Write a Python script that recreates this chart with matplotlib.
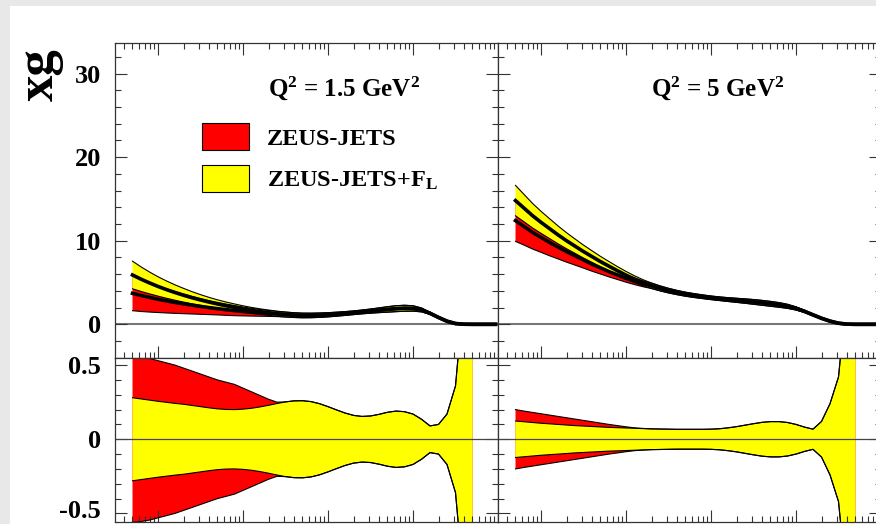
"""Gluon density xg at two Q^2 values, ZEUS-JETS vs ZEUS-JETS+F_L fits.

Upper row: xg with the fit uncertainty band, lower row: the fractional
uncertainty of each fit. Both rows are drawn from the same central values
and relative uncertainties.
"""

import matplotlib.pyplot as plt
import numpy as np
from matplotlib.patches import Patch, Rectangle
from matplotlib.ticker import FuncFormatter, LogLocator, MultipleLocator, NullFormatter
from matplotlib.transforms import ScaledTranslation

plt.rcParams.update({
    "font.family": "Liberation Serif",
    "font.weight": "bold",
    "mathtext.fontset": "custom",
    "mathtext.rm": "Liberation Serif:bold",
    "mathtext.it": "Liberation Serif:bold",
    "mathtext.bf": "Liberation Serif:bold",
    "axes.unicode_minus": False,
})

# log10(x) nodes for the xg curves
LOG_X = np.array([-4.3, -4.2, -4.1, -4.0, -3.9, -3.8, -3.7, -3.6, -3.5, -3.4,
                  -3.3, -3.2, -3.1, -3.0, -2.9, -2.8, -2.7, -2.6, -2.5, -2.4,
                  -2.3, -2.2, -2.1, -2.0, -1.9, -1.8, -1.7, -1.6, -1.5, -1.4,
                  -1.3, -1.2, -1.1, -1.0, -0.9, -0.8, -0.7, -0.6, -0.5, -0.4,
                  -0.3, -0.2, -0.1, -0.03])
# relative uncertainties are given on the first N_REL nodes (up to x ~ 0.5)
N_REL = 41

# Q^2 = 1.5 GeV^2
XG_JETS_Q15 = [3.70, 3.45, 3.22, 3.00, 2.80, 2.62, 2.45, 2.29, 2.14, 2.00,
               1.87, 1.75, 1.64, 1.54, 1.45, 1.37, 1.30, 1.23, 1.17, 1.10,
               1.06, 1.06, 1.09, 1.14, 1.21, 1.29, 1.38, 1.48, 1.58, 1.68,
               1.78, 1.87, 1.92, 1.90, 1.72, 1.32, 0.82, 0.37, 0.09, 0.01,
               0.0, 0.0, 0.0, 0.0]
XG_FL_Q15 = [5.90, 5.40, 4.95, 4.53, 4.15, 3.80, 3.48, 3.18, 2.91, 2.66,
             2.43, 2.22, 2.03, 1.84, 1.67, 1.52, 1.39, 1.27, 1.17, 1.10,
             1.06, 1.06, 1.09, 1.14, 1.21, 1.29, 1.38, 1.48, 1.58, 1.68,
             1.78, 1.87, 1.92, 1.90, 1.72, 1.32, 0.82, 0.37, 0.09, 0.01,
             0.0, 0.0, 0.0, 0.0]
REL_JETS_Q15 = [0.560, 0.555, 0.545, 0.530, 0.515, 0.500, 0.480, 0.460, 0.440, 0.420,
                0.400, 0.385, 0.370, 0.345, 0.320, 0.295, 0.270, 0.250, 0.252, 0.259,
                0.260, 0.254, 0.240, 0.220, 0.198, 0.177, 0.161, 0.154, 0.157, 0.168,
                0.182, 0.190, 0.186, 0.170, 0.135, 0.090, 0.100, 0.170, 0.360, 1.00,
                2.00]
REL_FL_Q15 = [0.280, 0.272, 0.264, 0.256, 0.249, 0.242, 0.236, 0.228, 0.220, 0.212,
              0.205, 0.201, 0.200, 0.203, 0.209, 0.218, 0.229, 0.241, 0.252, 0.259,
              0.260, 0.254, 0.240, 0.220, 0.198, 0.177, 0.161, 0.154, 0.157, 0.168,
              0.182, 0.190, 0.186, 0.170, 0.135, 0.090, 0.100, 0.170, 0.360, 1.00,
              2.00]

# Q^2 = 5 GeV^2
XG_JETS_Q5 = [12.4, 11.7, 11.0, 10.4, 9.80, 9.25, 8.70, 8.20, 7.70, 7.20,
              6.75, 6.30, 5.90, 5.50, 5.15, 4.85, 4.60, 4.30, 4.03, 3.80,
              3.60, 3.44, 3.30, 3.17, 3.06, 2.96, 2.87, 2.78, 2.68, 2.57,
              2.45, 2.32, 2.15, 1.90, 1.55, 1.13, 0.72, 0.38, 0.13, 0.02,
              0.0, 0.0, 0.0, 0.0]
XG_FL_Q5 = [14.8, 13.9, 13.0, 12.2, 11.45, 10.7, 10.0, 9.35, 8.70, 8.10,
            7.50, 6.95, 6.40, 5.88, 5.40, 4.98, 4.62, 4.30, 4.03, 3.80,
            3.60, 3.44, 3.30, 3.17, 3.06, 2.96, 2.87, 2.78, 2.68, 2.57,
            2.45, 2.32, 2.15, 1.90, 1.55, 1.13, 0.72, 0.38, 0.13, 0.02,
            0.0, 0.0, 0.0, 0.0]
REL_JETS_Q5 = [0.200, 0.190, 0.181, 0.172, 0.163, 0.154, 0.145, 0.136, 0.127, 0.118,
               0.109, 0.100, 0.092, 0.084, 0.077, 0.073, 0.070, 0.069, 0.068, 0.067,
               0.067, 0.067, 0.067, 0.068, 0.071, 0.077, 0.085, 0.095, 0.105, 0.114,
               0.119, 0.119, 0.113, 0.100, 0.082, 0.068, 0.120, 0.240, 0.420, 1.00,
               2.00]
REL_FL_Q5 = [0.123, 0.118, 0.113, 0.108, 0.104, 0.100, 0.096, 0.092, 0.089, 0.086,
             0.083, 0.080, 0.078, 0.076, 0.074, 0.072, 0.070, 0.069, 0.068, 0.067,
             0.067, 0.067, 0.067, 0.068, 0.071, 0.077, 0.085, 0.095, 0.105, 0.114,
             0.119, 0.119, 0.113, 0.100, 0.082, 0.068, 0.120, 0.240, 0.420, 1.00,
             2.00]

PANEL_TITLES = [r"Q$^{2}$ = 1.5 GeV$^{2}$", r"Q$^{2}$ = 5 GeV$^{2}$"]
FIT_LABELS = ["ZEUS-JETS", r"ZEUS-JETS+F$_{\mathrm{L}}$"]
FIT_COLORS = ["#ff0000", "#ffff00"]
REL_TICKS = [-0.5, 0.0, 0.5]
REL_TICK_LABELS = ["-0.5", "0", "0.5"]

W, H = 876, 524


def px_box(left, top, right, bottom):
    """Pixel rectangle (from the top-left corner) -> figure-fraction box."""
    return [left / W, 1 - bottom / H, (right - left) / W, (bottom - top) / H]


def style_axes(ax, ymajor, yminor, top=True, bottom=True, labelleft=True):
    ax.set_xscale("log")
    ax.set_xlim(10 ** -4.506, 1.0)
    ax.xaxis.set_major_locator(LogLocator(base=10, numticks=12))
    ax.xaxis.set_minor_locator(LogLocator(base=10, subs=np.arange(2, 10), numticks=12))
    ax.xaxis.set_major_formatter(NullFormatter())
    ax.xaxis.set_minor_formatter(NullFormatter())
    ax.yaxis.set_major_locator(MultipleLocator(ymajor))
    ax.yaxis.set_minor_locator(MultipleLocator(yminor))
    ax.yaxis.set_major_formatter(FuncFormatter(lambda v, _: "0" if abs(v) < 1e-9 else f"{v:g}"))
    ax.tick_params(which="both", direction="in", top=top, bottom=bottom,
                   left=True, right=True, width=0.8, color="#333333",
                   labelbottom=False, labelleft=labelleft)
    ax.tick_params(which="major", length=8.5)
    ax.tick_params(which="minor", length=4.3)
    ax.tick_params(axis="y", labelsize=19, pad=10)
    for spine in ax.spines.values():
        spine.set_color("#333333")
        spine.set_linewidth(0.9)


def draw_band(ax, x, lo, hi, color):
    ax.fill_between(x, lo, hi, facecolor=color, edgecolor="none")
    ax.plot(x, lo, color="black", lw=0.8)
    ax.plot(x, hi, color="black", lw=0.8)


def draw_q2(ax_top, ax_rel, fits, title):
    x = 10 ** LOG_X
    xr = x[:N_REL]
    # upper row: xg band and central value for each fit, red first
    for (xg, rel), color in zip(fits, FIT_COLORS):
        xg = np.asarray(xg)
        rel = np.asarray(rel)
        draw_band(ax_top, xr, xg[:N_REL] * (1 - rel), xg[:N_REL] * (1 + rel), color)
        ax_top.plot(x, xg, color="black", lw=2.6)
    ax_top.axhline(0, color="#777777", lw=1.5, zorder=1)
    ax_top.set_ylim(-4.03, 33.65)
    ax_top.text(0.40, 0.832, title, transform=ax_top.transAxes,
                fontsize=18, ha="left", va="baseline")

    # lower row: fractional uncertainty
    for (xg, rel), color in zip(fits, FIT_COLORS):
        rel = np.asarray(rel)
        draw_band(ax_rel, xr, -rel, rel, color)
    ax_rel.axhline(0, color="#444444", lw=0.9)
    ax_rel.set_ylim(-0.558, 0.548)


fig = plt.figure(figsize=(W / 100, H / 100), dpi=100, facecolor="#e8e8e8")
fig.add_artist(Rectangle((10 / W, 0), 1, 1 - 6 / H, transform=fig.transFigure,
                         facecolor="white", edgecolor="none", zorder=-10))

panels = [
    ((XG_JETS_Q15, REL_JETS_Q15), (XG_FL_Q15, REL_FL_Q15)),
    ((XG_JETS_Q5, REL_JETS_Q5), (XG_FL_Q5, REL_FL_Q5)),
]
for i, (fits, title) in enumerate(zip(panels, PANEL_TITLES)):
    left = 115 + i * 383
    ax_top = fig.add_axes(px_box(left, 43, left + 383, 358))
    ax_rel = fig.add_axes(px_box(left, 358, left + 383, 522))
    style_axes(ax_top, 10, 2, labelleft=(i == 0))
    style_axes(ax_rel, 0.5, 0.1, top=False, labelleft=(i == 0))
    draw_q2(ax_top, ax_rel, fits, title)

    if i == 0:
        ax_rel.set_yticks(REL_TICKS, labels=REL_TICK_LABELS)
        # the lowest label sits right at the bottom edge: centre its box instead
        low = ax_rel.yaxis.get_major_ticks()[0].label1
        low.set_va("center")
        low.set_transform(low.get_transform()
                          + ScaledTranslation(0, 1.5 / 72, fig.dpi_scale_trans))

        handles = [Patch(facecolor=c, edgecolor="black", lw=0.8) for c in FIT_COLORS]
        ax_top.legend(handles, FIT_LABELS, loc="upper left",
                      bbox_to_anchor=(0.227, 0.746), frameon=False,
                      borderpad=0, borderaxespad=0, fontsize=17.5,
                      handlelength=1.93, handleheight=1.36,
                      handletextpad=0.74, labelspacing=0.58)

fig.text(40 / W, 1 - 75 / H, "xg", rotation=90, fontsize=38,
         ha="center", va="center")

fig.savefig("out.png", dpi=100, facecolor=fig.get_facecolor())
